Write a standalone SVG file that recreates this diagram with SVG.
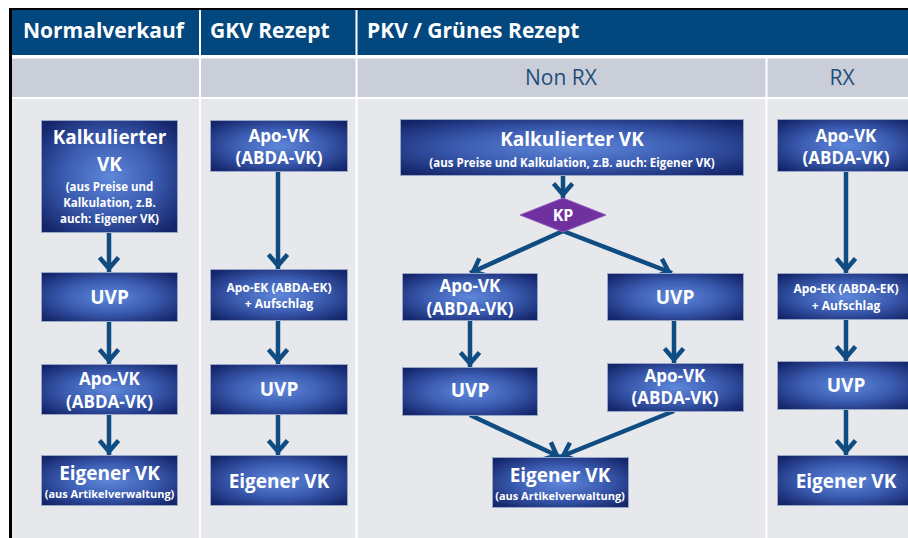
<svg xmlns="http://www.w3.org/2000/svg" width="908" height="538" viewBox="0 0 908 538">
<style>
.hd{font-family:"Open Sans","Liberation Sans",sans-serif;font-weight:700;font-size:21px;fill:#fff}
.sub{font-family:"Open Sans","Liberation Sans",sans-serif;font-size:21px;fill:#1F4E79;text-anchor:middle}
.box{fill:url(#bg);stroke:#98A6C8;stroke-width:1}
.t{font-family:"Open Sans","Liberation Sans",sans-serif;font-weight:700;fill:#fff;text-anchor:middle}
.l{font-size:19px}
.m{font-size:17px}
.s{font-size:11.5px}
.a{font-size:11px}
.e{font-size:12px}
.c{fill:none;stroke:#0F4C81;stroke-width:4.5;marker-end:url(#arr)}
</style>
<defs>
<radialGradient id="bg" cx="0.5" cy="0.5" r="0.65">
<stop offset="0" stop-color="#5E87DA"/>
<stop offset="0.5" stop-color="#3C5DB2"/>
<stop offset="1" stop-color="#14256A"/>
</radialGradient>
<marker id="arr" viewBox="-20 -15 25 30" markerWidth="25" markerHeight="30" refX="0" refY="0" orient="auto" markerUnits="userSpaceOnUse">
<path d="M-14.5,-9.5 L-3.5,0 L-14.5,9.5" fill="none" stroke="#0F4C81" stroke-width="4.5"/>
</marker>
</defs>
<rect width="908" height="538" fill="#fff"/>
<rect x="9" y="8" width="899" height="2" fill="#000"/>
<rect x="9" y="8" width="3" height="530" fill="#000"/>
<rect x="12" y="10" width="896" height="45" fill="#03477F"/>
<rect x="12" y="58.5" width="896" height="38.5" fill="#C9CED8"/>
<rect x="12" y="99" width="896" height="439" fill="#E7E8EC"/>
<g fill="#fff">
<rect x="199" y="10" width="2" height="528"/>
<rect x="355.5" y="10" width="2" height="528"/>
<rect x="765.5" y="58" width="2" height="480"/>
</g>
<g id="header">
<text class="hd" x="23" y="38">Normalverkauf</text>
<text class="hd" x="210" y="38">GKV Rezept</text>
<text class="hd" x="367" y="38">PKV / Grünes Rezept</text>
<text class="sub" x="561" y="85">Non RX</text>
<text class="sub" x="842" y="85">RX</text>
</g>
<g id="connectors">
<line class="c" x1="109" y1="232" x2="109" y2="272"/>
<line class="c" x1="109" y1="321" x2="109" y2="364"/>
<line class="c" x1="109" y1="414" x2="109" y2="455"/>
<line class="c" x1="278" y1="171" x2="278" y2="269"/>
<line class="c" x1="278" y1="320" x2="278" y2="364"/>
<line class="c" x1="278" y1="414" x2="278" y2="455"/>
<line class="c" x1="563" y1="175" x2="563" y2="198"/>
<line class="c" x1="563" y1="231" x2="470" y2="273"/>
<line class="c" x1="563" y1="231" x2="672" y2="273"/>
<line class="c" x1="470" y1="320" x2="470" y2="367"/>
<line class="c" x1="674" y1="320" x2="674" y2="363"/>
<line class="c" x1="470" y1="415" x2="560" y2="457"/>
<line class="c" x1="674" y1="411" x2="560" y2="457"/>
<line class="c" x1="846" y1="171" x2="846" y2="273"/>
<line class="c" x1="846" y1="319" x2="846" y2="361"/>
<line class="c" x1="846" y1="409" x2="846" y2="455"/>
</g>
<g id="n1-kalk"><rect class="box" x="41.5" y="120.5" width="136" height="112"/>
<text class="t l" x="109.5" y="144">Kalkulierter</text>
<text class="t l" x="109.5" y="171">VK</text>
<text class="t s" x="109.5" y="191">(aus Preise und</text>
<text class="t s" x="109.5" y="207">Kalkulation, z.B.</text>
<text class="t s" x="109.5" y="223">auch: Eigener VK)</text></g>
<g id="n1-uvp"><rect class="box" x="41.5" y="272.5" width="136" height="49"/>
<text class="t l" x="109.5" y="304">UVP</text></g>
<g id="n1-apovk"><rect class="box" x="41.5" y="364.5" width="136" height="50"/>
<text class="t m" x="109.5" y="385">Apo-VK</text>
<text class="t m" x="109.5" y="408">(ABDA-VK)</text></g>
<g id="n1-eigen"><rect class="box" x="41.5" y="455.5" width="136" height="50"/>
<text class="t l" x="109.5" y="480">Eigener VK</text>
<text class="t a" x="109.5" y="498">(aus Artikelverwaltung)</text></g>

<g id="n2-apovk"><rect class="box" x="210.5" y="120.5" width="137" height="51"/>
<text class="t m" x="279" y="142">Apo-VK</text>
<text class="t m" x="279" y="164">(ABDA-VK)</text></g>
<g id="n2-apoek"><rect class="box" x="210.5" y="269.5" width="137" height="51"/>
<text class="t e" x="279" y="292">Apo-EK (ABDA-EK)</text>
<text class="t e" x="279" y="308">+ Aufschlag</text></g>
<g id="n2-uvp"><rect class="box" x="210.5" y="364.5" width="137" height="50"/>
<text class="t l" x="279" y="396">UVP</text></g>
<g id="n2-eigen"><rect class="box" x="210.5" y="455.5" width="137" height="50"/>
<text class="t l" x="279" y="488">Eigener VK</text></g>

<g id="n3-kalk"><rect class="box" x="400.5" y="119.5" width="343" height="56"/>
<text class="t l" x="572" y="146">Kalkulierter VK</text>
<text class="t s" x="572" y="167">(aus Preise und Kalkulation, z.B. auch: Eigener VK)</text></g>
<g id="n3-kp"><polygon points="563,198 606,215 563,232 520,215" fill="#7030A0" stroke="#8E5BB8" stroke-width="1"/>
<text class="t" x="563" y="221" style="font-size:16px">KP</text></g>
<g id="n3-apovk-l"><rect class="box" x="402.5" y="273.5" width="135" height="47"/>
<text class="t m" x="470" y="292">Apo-VK</text>
<text class="t m" x="470" y="315">(ABDA-VK)</text></g>
<g id="n3-uvp-r"><rect class="box" x="607.5" y="273.5" width="136" height="47"/>
<text class="t l" x="675" y="304">UVP</text></g>
<g id="n3-uvp-l"><rect class="box" x="402.5" y="367.5" width="135" height="48"/>
<text class="t l" x="470" y="397">UVP</text></g>
<g id="n3-apovk-r"><rect class="box" x="607.5" y="363.5" width="136" height="48"/>
<text class="t m" x="675" y="382">Apo-VK</text>
<text class="t m" x="675" y="404">(ABDA-VK)</text></g>
<g id="n3-eigen"><rect class="box" x="492.5" y="457.5" width="136" height="50"/>
<text class="t l" x="560" y="482">Eigener VK</text>
<text class="t a" x="560" y="500">(aus Artikelverwaltung)</text></g>

<g id="n4-apovk"><rect class="box" x="777.5" y="119.5" width="138" height="52"/>
<text class="t m" x="846" y="142">Apo-VK</text>
<text class="t m" x="846" y="164">(ABDA-VK)</text></g>
<g id="n4-apoek"><rect class="box" x="777.5" y="273.5" width="138" height="46"/>
<text class="t e" x="846" y="293">Apo-EK (ABDA-EK)</text>
<text class="t e" x="846" y="310">+ Aufschlag</text></g>
<g id="n4-uvp"><rect class="box" x="777.5" y="361.5" width="138" height="48"/>
<text class="t l" x="846" y="392">UVP</text></g>
<g id="n4-eigen"><rect class="box" x="777.5" y="455.5" width="138" height="50"/>
<text class="t l" x="846" y="488">Eigener VK</text></g>
</svg>
